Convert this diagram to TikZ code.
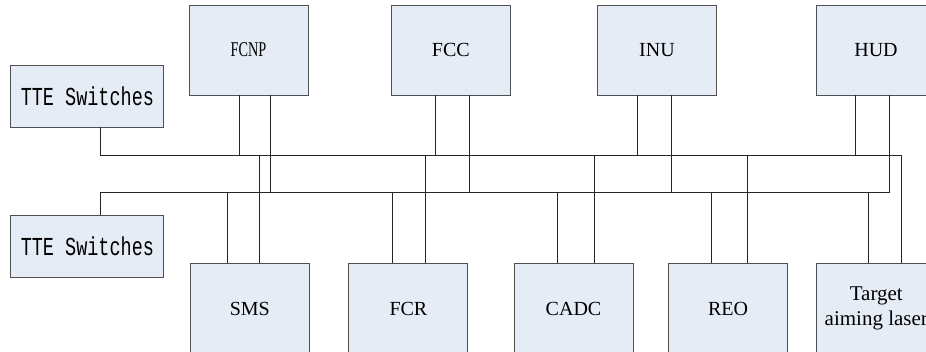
\documentclass[tikz,border=0pt]{standalone}
\usepackage{fontspec}
\setmainfont{Liberation Serif}
\newfontfamily\simfont{Liberation Mono}
\usepackage{tikz}
\usetikzlibrary{positioning, calc}

\definecolor{boxfill}{RGB}{230,236,246}
\definecolor{boxline}{RGB}{80,80,80}

\tikzset{
    unit/.style={draw=boxline, fill=boxfill, line width=0.9pt, minimum width=119pt,
        minimum height=90pt, inner sep=0pt, align=center,
        font=\fontsize{20}{25}\selectfont},
    switchbox/.style={unit, minimum width=153pt, minimum height=62pt,
        font=\simfont\fontsize{18.5}{22}\selectfont},
    bus/.style={black!85, line width=0.9pt}
}

\begin{document}
\begin{tikzpicture}[x=1pt, y=-1pt]
    \useasboundingbox (0,0) rectangle (926,351);
    \clip (0,0) rectangle (926,351);

    % Switches
    \node[switchbox] (tteA) at (87.4,96) {\scalebox{1}[1.4]{TTE Switches}};
    \node[switchbox] (tteB) at (87.4,246.7) {\scalebox{1}[1.4]{TTE Switches}};

    % Top row of units
    \node[unit, font=\fontsize{21}{25}\selectfont] (fcnp) at (248.5,50) {\scalebox{0.68}[1]{FCNP}};
    \node[unit] (fcc) at (450.8,50) {FCC};
    \node[unit] (inu) at (657,50) {INU};
    \node[unit] (hud) at (876,50) {HUD};

    % Bottom row of units
    \node[unit] (sms) at (249.8,308.7) {SMS};
    \node[unit] (fcr) at (408.4,308.7) {FCR};
    \node[unit] (cadc) at (573.5,308.7) {CADC};
    \node[unit] (reo) at (728,308.7) {REO};
    \node[unit, font=\fontsize{21}{25}\selectfont] (laser) at (876.3,308.7) {Target\\aiming laser};

    % Bus corners
    \coordinate (b1) at (901.7,155);
    \coordinate (b2) at (889,192.7);

    % The two buses
    \draw[bus] ([xshift=13.3pt]tteA.south) |- (b1) -- (b1 |- laser.north);
    \draw[bus] ([xshift=13.3pt]tteB.north) |- (b2) -- (b2 |- hud.south);

    % Drops from the top units
    \foreach \dev/\a/\b in {fcnp/-9.2/22.2, fcc/-15.1/18.5, inu/-19.3/14.4} {
        \coordinate (pa) at ([xshift=\a pt]\dev.south);
        \coordinate (pb) at ([xshift=\b pt]\dev.south);
        \draw[bus] (pa) -- (pa |- b1);
        \draw[bus] (pb) -- (pb |- b2);
    }
    \coordinate (pa) at ([xshift=-20.3pt]hud.south);
    \draw[bus] (pa) -- (pa |- b1);

    % Drops to the bottom units
    \foreach \dev/\a/\b in {sms/-22.5/9.5, fcr/-16.4/17.3, cadc/-15.8/21.2, reo/-16.3/19} {
        \coordinate (pa) at ([xshift=\a pt]\dev.north);
        \coordinate (pb) at ([xshift=\b pt]\dev.north);
        \draw[bus] (pa) -- (pa |- b2);
        \draw[bus] (pb) -- (pb |- b1);
    }
    \coordinate (pa) at ([xshift=-7.6pt]laser.north);
    \draw[bus] (pa) -- (pa |- b2);

\end{tikzpicture}
\end{document}
